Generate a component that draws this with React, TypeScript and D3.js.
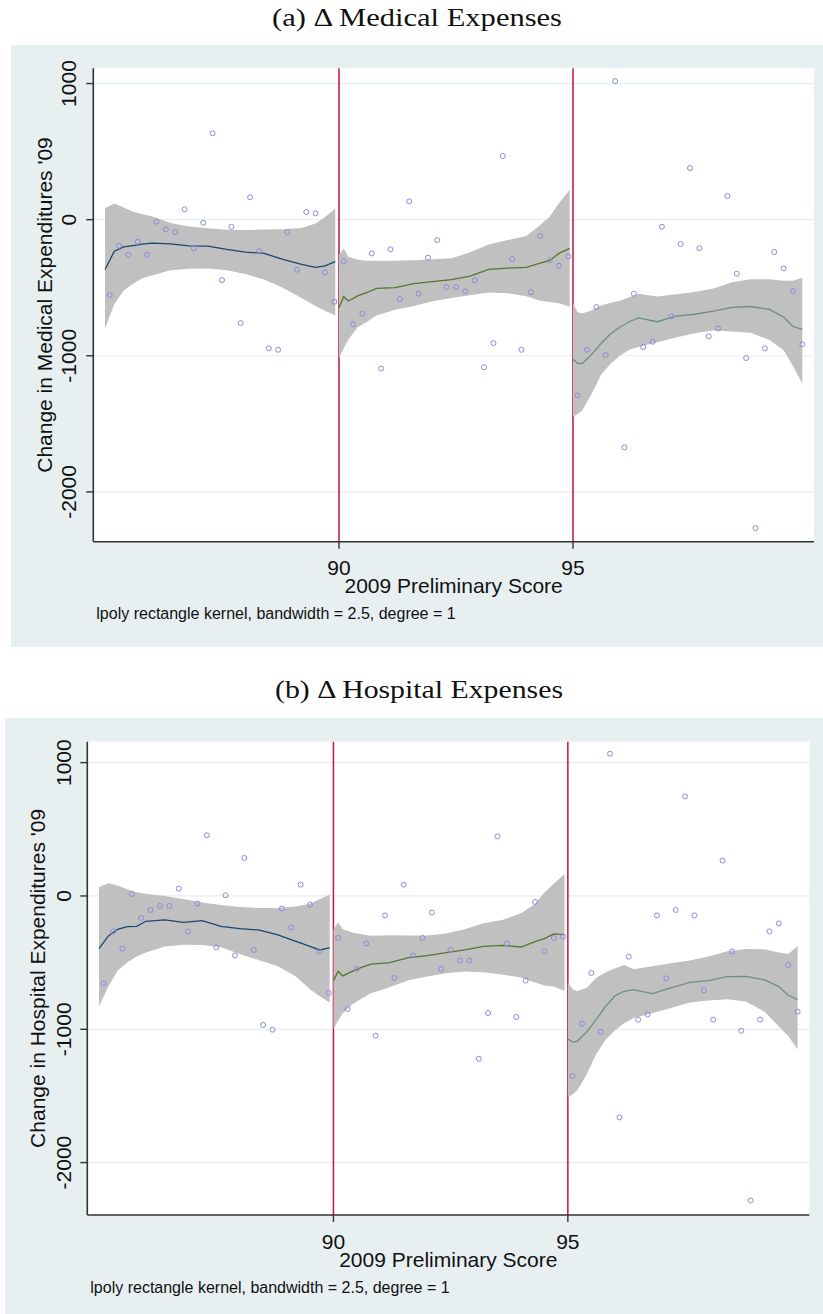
import React from 'react';
import * as d3 from 'd3';

// 2009 preliminary score of each bin (x of every scatter point)
const scores = [
  85.1, 85.3, 85.5, 85.7, 85.9, 86.1, 86.3, 86.5, 86.7, 86.9, 87.1, 87.3, 87.5,
  87.7, 87.9, 88.1, 88.3, 88.5, 88.7, 88.9, 89.1, 89.3, 89.5, 89.7, 89.9,
  90.1, 90.3, 90.5, 90.7, 90.9, 91.1, 91.3, 91.5, 91.7, 91.9, 92.1, 92.3, 92.5,
  92.7, 92.9, 93.1, 93.3, 93.5, 93.7, 93.9, 94.1, 94.3, 94.5, 94.7, 94.9,
  95.1, 95.3, 95.5, 95.7, 95.9, 96.1, 96.3, 96.5, 96.7, 96.9, 97.1, 97.3, 97.5,
  97.7, 97.9, 98.1, 98.3, 98.5, 98.7, 98.9, 99.1, 99.3, 99.5, 99.7, 99.9,
];

// Change in medical expenditures '09, bin means
const medicalChange = [
  -554, -192, -258, -162, -258, -15, -71, -91, 76, -211, -23, 634, -444,
  -52, -760, 164, -231, -946, -956, -91, -368, 56, 46, -387, -603,
  -306, -769, -691, -248, -1094, -218, -583, 134, -544, -280, -150, -495, -495,
  -525, -446, -1084, -907, 467, -289, -956, -534, -120, -299, -339, -270,
  -1291, -956, -642, -995, 1018, -1673, -544, -936, -897, -52, -710, -179, 379,
  -209, -857, -799, 173, -397, -1017, -2266, -946, -238, -358, -525, -916,
];

// Change in hospital expenditures '09, bin means
const hospitalChange = [
  -658, -266, -395, 15, -165, -105, -75, -75, 55, -266, -56, 455, -386,
  5, -446, 285, -405, -968, -1003, -95, -236, 85, -65, -416, -728,
  -315, -848, -548, -356, -1048, -146, -615, 85, -446, -315, -125, -548, -405,
  -485, -485, -1221, -878, 447, -356, -908, -635, -45, -416, -315, -305,
  -1350, -958, -578, -1020, 1067, -1661, -455, -928, -888, -146, -618, -105, 747,
  -146, -708, -928, 265, -416, -1011, -2284, -928, -266, -206, -518, -868,
];

// Evaluation grids of the local polynomial fits, one per score segment
const grid1 = [85.0, 85.2, 85.4, 85.6, 85.8, 86.0, 86.4, 86.8, 87.2, 87.6, 88.0, 88.4, 88.8, 89.2, 89.5, 89.7, 89.92];
const grid2 = [90.0, 90.1, 90.2, 90.4, 90.6, 90.8, 91.2, 91.6, 92.0, 92.4, 92.8, 93.2, 93.6, 94.0, 94.3, 94.5, 94.7, 94.93];
const grid3 = [95.0, 95.1, 95.2, 95.4, 95.6, 95.8, 96.0, 96.2, 96.4, 96.8, 97.2, 97.6, 98.0, 98.4, 98.8, 99.2, 99.5, 99.7, 99.9];

// Medical expenses: lpoly fit with 95% band
const medFit1 = [-366, -232, -200, -190, -180, -172, -178, -192, -194, -219, -238, -248, -292, -328, -350, -340, -309];
const medHi1 = [83, 118, 90, 58, 40, 25, -25, -50, -64, -74, -76, -72, -71, -62, -28, 20, 80];
const medLo1 = [-799, -620, -520, -470, -430, -410, -372, -360, -358, -372, -400, -440, -500, -575, -635, -670, -705];
const medFit2 = [-647, -566, -598, -560, -535, -505, -500, -470, -455, -440, -415, -365, -356, -350, -320, -300, -248, -211];
const medHi2 = [-260, -211, -272, -295, -302, -302, -302, -298, -290, -284, -240, -182, -150, -120, -40, 21, 120, 220];
const medLo2 = [-1019, -946, -880, -790, -750, -705, -662, -635, -600, -575, -556, -536, -540, -562, -596, -605, -615, -640];
const medFit3 = [-1026, -1055, -1057, -990, -910, -840, -790, -750, -722, -750, -708, -695, -672, -645, -638, -660, -715, -785, -806];
const medHi3 = [-615, -680, -690, -665, -630, -610, -595, -570, -545, -565, -548, -532, -505, -460, -437, -437, -449, -449, -427];
const medLo3 = [-1448, -1428, -1400, -1280, -1140, -1060, -1000, -955, -935, -900, -865, -835, -815, -822, -830, -885, -960, -1075, -1203];

// Hospital expenses: lpoly fit with 95% band
const hosFit1 = [-395, -300, -250, -230, -228, -190, -180, -198, -185, -228, -245, -255, -290, -340, -378, -405, -390];
const hosHi1 = [67, 95, 78, 50, 27, 17, 0, -22, -50, -68, -82, -90, -90, -80, -58, -25, 10];
const hosLo1 = [-828, -680, -560, -500, -455, -425, -380, -366, -368, -385, -435, -480, -525, -605, -700, -750, -800];
const hosFit2 = [-635, -566, -600, -566, -535, -512, -500, -462, -448, -425, -405, -378, -371, -383, -343, -320, -284, -290];
const hosHi2 = [-253, -198, -250, -275, -288, -298, -295, -296, -296, -282, -250, -205, -180, -130, -60, 25, 92, 165];
const hosLo2 = [-1003, -935, -880, -815, -770, -730, -685, -632, -605, -580, -566, -572, -590, -612, -650, -672, -680, -712];
const hosFit3 = [-1073, -1095, -1090, -1020, -930, -830, -750, -715, -703, -733, -690, -648, -635, -605, -603, -630, -680, -745, -778];
const hosHi3 = [-648, -700, -712, -690, -615, -575, -545, -518, -550, -528, -505, -485, -455, -415, -398, -400, -425, -435, -378];
const hosLo3 = [-1507, -1490, -1460, -1340, -1190, -1080, -1010, -955, -916, -880, -840, -800, -785, -775, -792, -870, -980, -1050, -1150];

const cutoffs = [90, 95];
const xTicks = [90, 95];
const yTicks = [1000, 0, -1000, -2000];
const segColors = ['#1a476f', '#55752f', '#6e8e84'];

const SANS = '"Liberation Sans", Arial, Helvetica, sans-serif';
const SERIF = '"Liberation Serif", "Times New Roman", serif';

type Seg = { grid: number[]; fit: number[]; hi: number[]; lo: number[] };

type PanelProps = {
  title: string;
  titleX: number;
  titleY: number;
  titleLen: number;
  bg: { x: number; y: number; w: number; h: number };
  plot: { left: number; right: number; top: number; bottom: number };
  yDomain: [number, number];
  yLabel: string;
  yLabelX: number;
  yTickX: number;
  values: number[];
  segs: Seg[];
  vlineColor: string;
  vlineWidth: number;
};

function Panel(p: PanelProps) {
  const { plot } = p;
  const x = d3.scaleLinear().domain([84.75, 100.15]).range([plot.left, plot.right]);
  const y = d3.scaleLinear().domain(p.yDomain).range([plot.bottom, plot.top]);
  const midX = (plot.left + plot.right) / 2;
  const midY = (plot.top + plot.bottom) / 2;

  return (
    <g>
      <text x={p.titleX} y={p.titleY} textAnchor="middle" fontFamily={SERIF} fontSize={26}
        fill="#111" textLength={p.titleLen} lengthAdjust="spacingAndGlyphs">{p.title}</text>
      <rect x={p.bg.x} y={p.bg.y} width={p.bg.w} height={p.bg.h} fill="#e8eff1" />
      <rect x={plot.left} y={plot.top} width={plot.right - plot.left} height={plot.bottom - plot.top} fill="#ffffff" />
      {yTicks.map((t) => (
        <line key={'g' + t} x1={plot.left} x2={plot.right} y1={y(t)} y2={y(t)} stroke="#e4eef0" strokeWidth={1.2} />
      ))}
      {cutoffs.map((c) => (
        <line key={'v' + c} x1={x(c)} x2={x(c)} y1={plot.top} y2={plot.bottom} stroke={p.vlineColor} strokeWidth={p.vlineWidth} />
      ))}
      {p.segs.map((s, i) => {
        const pts = s.grid.map((g, k) => ({ g, f: s.fit[k], hi: s.hi[k], lo: s.lo[k] }));
        const area = d3.area<typeof pts[0]>().x((d) => x(d.g)).y0((d) => y(d.lo)).y1((d) => y(d.hi));
        const line = d3.line<typeof pts[0]>().x((d) => x(d.g)).y((d) => y(d.f));
        return (
          <g key={'s' + i}>
            <path d={area(pts) || ''} fill="#c0c0c0" />
            <path d={line(pts) || ''} fill="none" stroke={segColors[i]} strokeWidth={1.3} />
          </g>
        );
      })}
      {scores.map((sc, i) => (
        <circle key={'p' + i} cx={x(sc)} cy={y(p.values[i])} r={2.5} fill="none" stroke="#8f89dc" strokeWidth={1} />
      ))}
      {/* axes */}
      <line x1={plot.left} x2={plot.left} y1={plot.top} y2={plot.bottom} stroke="#333" strokeWidth={1.6} />
      <line x1={plot.left} x2={plot.right} y1={plot.bottom} y2={plot.bottom} stroke="#333" strokeWidth={1.6} />
      {yTicks.map((t) => (
        <g key={'yt' + t}>
          <line x1={plot.left - 7} x2={plot.left} y1={y(t)} y2={y(t)} stroke="#333" strokeWidth={1.4} />
          <text transform={`translate(${p.yTickX},${y(t)}) rotate(-90)`} textAnchor="middle"
            fontFamily={SANS} fontSize={21} fill="#111">{t}</text>
        </g>
      ))}
      {xTicks.map((t) => (
        <g key={'xt' + t}>
          <line x1={x(t)} x2={x(t)} y1={plot.bottom} y2={plot.bottom + 7} stroke="#333" strokeWidth={1.4} />
          <text x={x(t)} y={plot.bottom + 33.5} textAnchor="middle" fontFamily={SANS} fontSize={21} fill="#111">{t}</text>
        </g>
      ))}
      <text x={midX} y={plot.bottom + 51.5} textAnchor="middle" fontFamily={SANS} fontSize={21} fill="#111">2009 Preliminary Score</text>
      <text transform={`translate(${p.yLabelX},${midY}) rotate(-90)`} textAnchor="middle"
        fontFamily={SANS} fontSize={21} fill="#111">{p.yLabel}</text>
      <text x={plot.left + 3} y={plot.bottom + 77.5} fontFamily={SANS} fontSize={16} fill="#111">
        lpoly rectangle kernel, bandwidth = 2.5, degree = 1
      </text>
    </g>
  );
}

export default function App() {
  const medSegs: Seg[] = [
    { grid: grid1, fit: medFit1, hi: medHi1, lo: medLo1 },
    { grid: grid2, fit: medFit2, hi: medHi2, lo: medLo2 },
    { grid: grid3, fit: medFit3, hi: medHi3, lo: medLo3 },
  ];
  const hosSegs: Seg[] = [
    { grid: grid1, fit: hosFit1, hi: hosHi1, lo: hosLo1 },
    { grid: grid2, fit: hosFit2, hi: hosHi2, lo: hosLo2 },
    { grid: grid3, fit: hosFit3, hi: hosHi3, lo: hosLo3 },
  ];
  return (
    <svg width={823} height={1314} style={{ position: 'absolute', left: 0, top: 0, background: '#fff' }}>
      <Panel
        title="(a) Δ Medical Expenses" titleX={417} titleY={26} titleLen={290}
        bg={{ x: 11, y: 45, w: 812, h: 602 }}
        plot={{ left: 93.3, right: 814, top: 68.3, bottom: 541.7 }}
        yDomain={[-2366, 1112]}
        yLabel="Change in Medical Expenditures '09" yLabelX={52} yTickX={76}
        values={medicalChange} segs={medSegs}
        vlineColor="#cc3a60" vlineWidth={1.8}
      />
      <Panel
        title="(b) Δ Hospital Expenses" titleX={419} titleY={698} titleLen={288}
        bg={{ x: 5, y: 718, w: 818, h: 596 }}
        plot={{ left: 87.3, right: 809.3, top: 741.7, bottom: 1215 }}
        yDomain={[-2393, 1157]}
        yLabel="Change in Hospital Expenditures '09" yLabelX={45} yTickX={71}
        values={hospitalChange} segs={hosSegs}
        vlineColor="#c8123e" vlineWidth={1.5}
      />
    </svg>
  );
}
